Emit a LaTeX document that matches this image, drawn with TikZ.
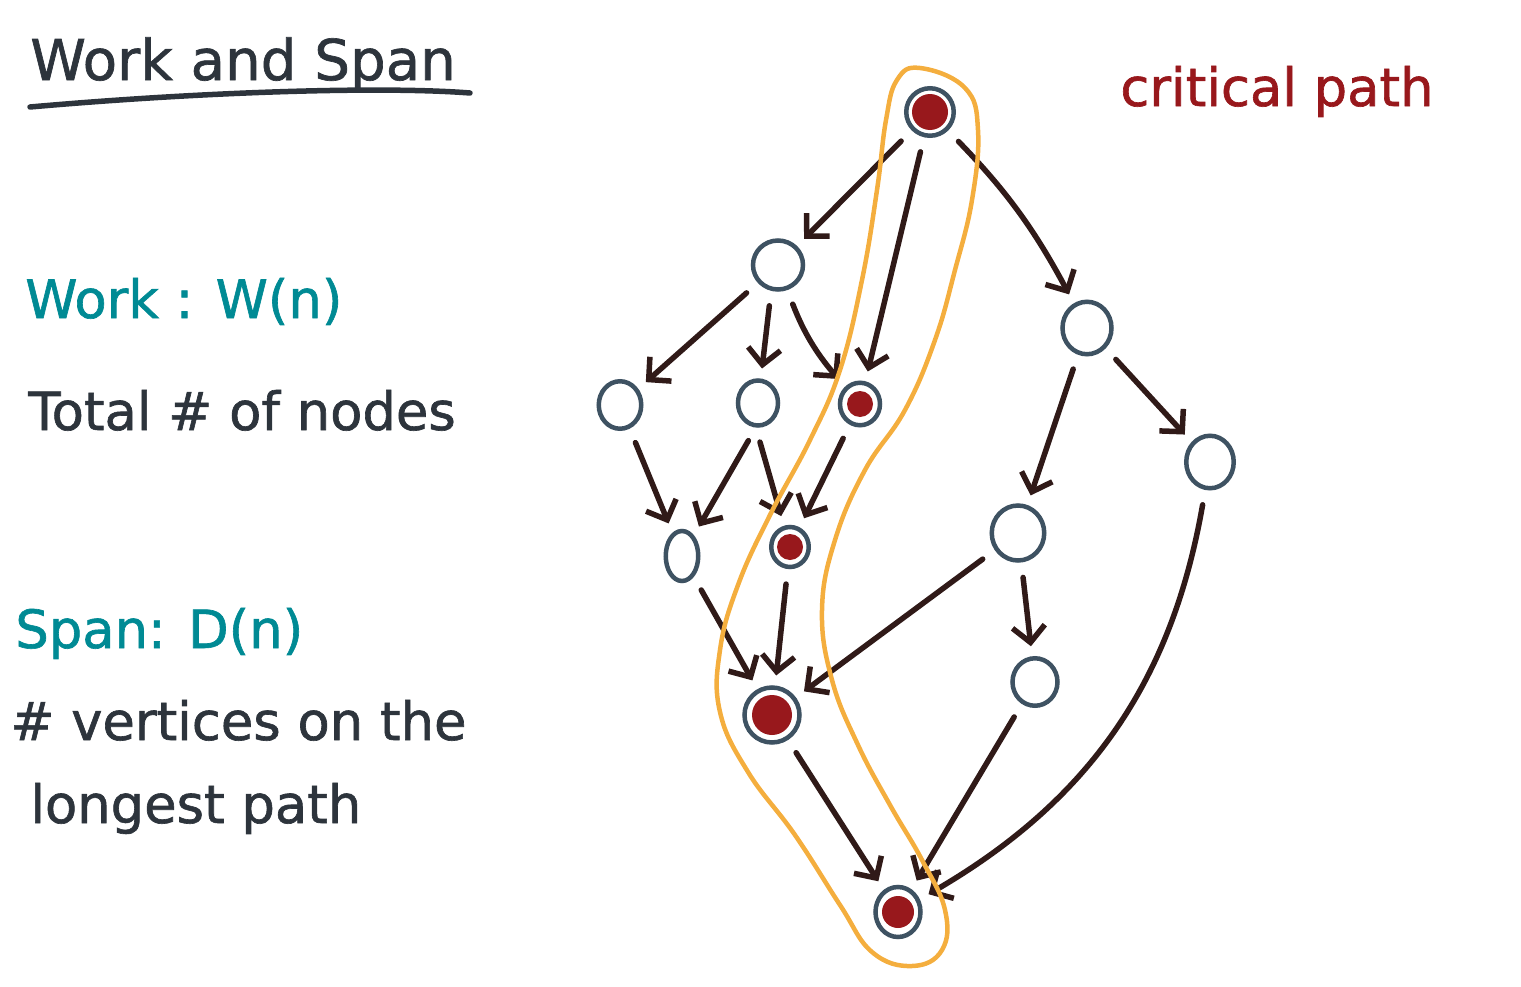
\documentclass[tikz,border=0pt]{standalone}
\usepackage{fontspec}
\setmainfont{DejaVu Sans}
\newfontface\handfont[FakeBold=1.2]{DejaVu Sans}
\usetikzlibrary{arrows.meta,shapes.geometric}

\definecolor{ink}{RGB}{45,52,60}
\definecolor{inkteal}{RGB}{0,138,148}
\definecolor{nodeblue}{RGB}{62,82,98}
\definecolor{arrowbrown}{RGB}{48,26,24}
\definecolor{critred}{RGB}{152,24,28}
\definecolor{looporange}{RGB}{244,174,62}

\begin{document}
\begin{tikzpicture}[
  x=0.2mm, y=-0.2mm,
  vertex/.style={draw=nodeblue,line width=0.9mm,ellipse,inner sep=0pt,minimum width=9mm,minimum height=9.5mm},
  crit/.style={vertex,path picture={\fill[critred] (path picture bounding box.center) circle (#1);}},
  arrow/.style={arrowbrown,line width=1.1mm,line cap=round,-{Straight Barb[length=3.2mm,width=6.5mm]},shorten <=3mm,shorten >=2mm},
  label/.style={anchor=base west,inner sep=0pt,text=ink,font=\handfont\fontsize{30}{36}\selectfont},
  heading/.style={label,text=inkteal},
]
\useasboundingbox (0,0) rectangle (1521,987);

% left column text
\node[label,font=\handfont\fontsize{32}{38}\selectfont] (title) at (30,80) {Work and Span};
\draw[ink,line width=1.1mm,line cap=round] (30,107) .. controls (200,92) and (380,86) .. (470,93);
\node[heading] (work)  at (25,318) {Work : W(n)};
\node[label]   (total) at (28,430) {Total \# of nodes};
\node[heading] (span)  at (15,648) {Span: D(n)};
\node[label]   (vert)  at (10,740) {\# vertices on the};
\node[label]   (long)  at (30,823) {longest path};
\node[label,text=critred] (critical) at (1120,106) {critical path};

% the graph
\node[crit=3.6mm,minimum width=9.5mm,minimum height=9.5mm] (a) at (930,112) {};
\node[vertex,minimum width=10mm,minimum height=9.8mm]  (b) at (778,265) {};
\node[vertex,minimum width=9.8mm,minimum height=10.5mm] (c) at (1087,328) {};
\node[vertex,minimum width=8.5mm,minimum height=9.5mm] (d) at (620,405) {};
\node[vertex,minimum width=8mm,minimum height=9mm]     (e) at (758,403) {};
\node[crit=2.6mm,minimum width=8mm,minimum height=8.5mm] (f) at (860,404) {};
\node[vertex,minimum width=9.5mm,minimum height=10.5mm] (g) at (1210,462) {};
\node[vertex,minimum width=6.5mm,minimum height=10mm]  (h) at (682,556) {};
\node[crit=2.6mm,minimum width=7.5mm,minimum height=8mm] (i) at (790,547) {};
\node[vertex,minimum width=10.5mm,minimum height=11mm] (j) at (1018,533) {};
\node[vertex,minimum width=9mm,minimum height=9.5mm]   (k) at (1035,682) {};
\node[crit=4mm,minimum width=11mm,minimum height=11mm] (l) at (772,715) {};
\node[crit=3.2mm,minimum width=9mm,minimum height=10mm]  (m) at (898,912) {};

\draw[arrow] (a) -- (b);
\draw[arrow] (a) -- (f);
\draw[arrow] (a) to[bend left=8] (c);
\draw[arrow] (b) -- (d);
\draw[arrow] (b.255) -- (e);
\draw[arrow] (b) to[bend right=10] (f);
\draw[arrow] (c) -- (j);
\draw[arrow] (c) -- (g);
\draw[arrow] (d) -- (h);
\draw[arrow] (e.-95) -- (h);
\draw[arrow] (e.-95) -- (i);
\draw[arrow] (f) -- (i);
\draw[arrow] (h) -- (l);
\draw[arrow] (i) -- (l);
\draw[arrow] (j) -- (l);
\draw[arrow] (j) -- (k);
\draw[arrow] (l) -- (m);
\draw[arrow] (k) -- (m);
\draw[arrow] (g) to[bend left=25] (m);

% critical path outline
\draw[looporange,line width=0.9mm] plot[smooth cycle,tension=0.7] coordinates {
  (920,68) (965,88) (978,130) (972,200) (955,270) (935,340) (905,410)
  (865,470) (835,540) (822,610) (832,680) (858,745) (890,805) (922,860)
  (945,910) (942,950) (912,966) (872,952) (840,905) (795,835) (748,772)
  (720,712) (720,650) (738,585) (770,515) (810,440) (840,370) (862,280)
  (877,190) (886,120) (897,80)};
\end{tikzpicture}
\end{document}
